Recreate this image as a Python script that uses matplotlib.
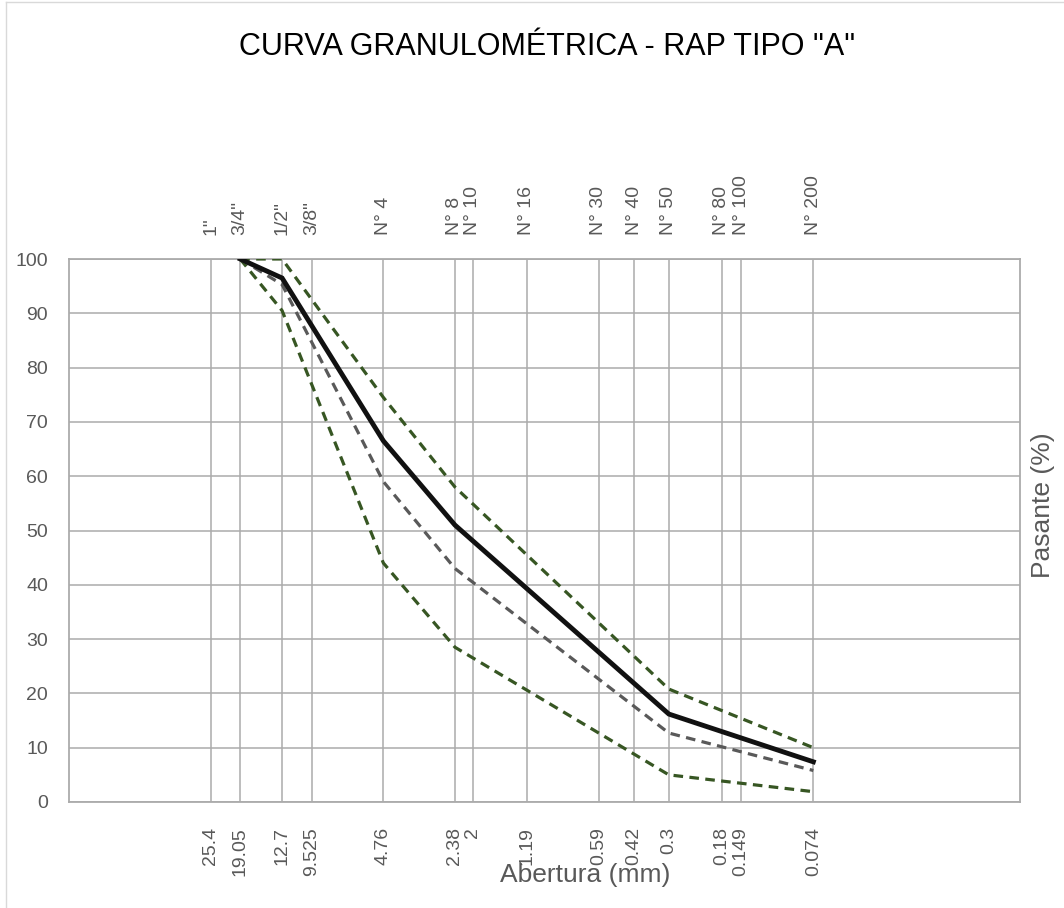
import matplotlib.pyplot as plt
from matplotlib.ticker import NullLocator, FixedLocator, FixedFormatter
from matplotlib.lines import Line2D

# sieve openings (mm) and their names
aberturas = [25.4, 19.05, 12.7, 9.525, 4.76, 2.38, 2.0, 1.19, 0.59, 0.42, 0.3, 0.18, 0.149, 0.074]
abertura_labels = ["25.4", "19.05", "12.7", "9.525", "4.76", "2.38", "2", "1.19",
                   "0.59", "0.42", "0.3", "0.18", "0.149", "0.074"]
tamices = ['1"', '3/4"', '1/2"', '3/8"', "N° 4", "N° 8", "N° 10", "N° 16",
           "N° 30", "N° 40", "N° 50", "N° 80", "N° 100", "N° 200"]

# curves: opening (mm) vs percent passing
x_curva = [19.05, 12.7, 4.76, 2.38, 0.3, 0.074]
rap_a = [100, 96.5, 66.5, 51, 16.2, 7.4]
limite_sup = [100, 100, 74.5, 58, 20.8, 10.0]
limite_inf = [100, 90.5, 44, 28.5, 5.0, 1.9]
curva_media = [100, 95.3, 59, 43, 12.7, 5.8]

gris_txt = "#595959"
gris_grid = "#ababab"
verde = "#375623"

plt.rcParams['font.family'] = ['Liberation Sans', 'DejaVu Sans']

fig = plt.figure(figsize=(10.64, 9.08), dpi=100)
ax = fig.add_axes([69 / 1064, 1 - 802 / 908, (1020 - 69) / 1064, (802 - 259) / 908])

ax.set_xscale('log')
ax.set_xlim(100, 0.01)
ax.set_ylim(0, 100)

ax.plot(x_curva, limite_inf, color=verde, lw=2.3, dashes=(3, 2), zorder=3)
ax.plot(x_curva, limite_sup, color=verde, lw=2.3, dashes=(3, 2), zorder=3)
ax.plot(x_curva, curva_media, color=gris_txt, lw=2.3, dashes=(3, 2), zorder=3)
ax.plot(x_curva, rap_a, color="#111111", lw=3.5, zorder=4, solid_joinstyle='miter')

# grid: vertical lines only at the sieves
ax.xaxis.set_major_locator(FixedLocator(aberturas))
ax.xaxis.set_major_formatter(FixedFormatter(abertura_labels))
ax.xaxis.set_minor_locator(NullLocator())
ax.set_yticks(range(0, 101, 10))
ax.grid(True, color=gris_grid, lw=1.1)
ax.set_axisbelow(True)
for s in ax.spines.values():
    s.set_color(gris_grid)
    s.set_linewidth(1.3)

ax.tick_params(axis='x', length=0, pad=18, labelsize=14, labelcolor=gris_txt, labelrotation=90)
ax.tick_params(axis='y', length=0, pad=15, labelsize=14, labelcolor=gris_txt)

# sieve names on top
top = ax.twiny()
top.set_xscale('log')
top.set_xlim(ax.get_xlim())
top.xaxis.set_major_locator(FixedLocator(aberturas))
top.xaxis.set_major_formatter(FixedFormatter(tamices))
top.xaxis.set_minor_locator(NullLocator())
top.tick_params(axis='x', length=0, pad=17, labelsize=14, labelcolor=gris_txt, labelrotation=90)
for s in top.spines.values():
    s.set_visible(False)

fig.text(547 / 1064, 1 - 47 / 908, 'CURVA GRANULOMÉTRICA - RAP TIPO "A"',
         ha='center', va='center', fontsize=22, color='black',
         family=['Liberation Sans Narrow', 'Liberation Sans'])
fig.text(585 / 1064, 1 - 875 / 908, "Abertura (mm)", ha='center', va='center',
         fontsize=19, color=gris_txt)
fig.text(1043 / 1064, 1 - 505 / 908, "Pasante (%)", ha='center', va='center',
         rotation=90, fontsize=19, color=gris_txt)

# chart area frame
fig.add_artist(Line2D([0.006, 0.006], [0, 0.998], transform=fig.transFigure, color="#d9d9d9", lw=1))
fig.add_artist(Line2D([0.006, 1], [0.998, 0.998], transform=fig.transFigure, color="#d9d9d9", lw=1))

fig.savefig("out.png", dpi=100)
